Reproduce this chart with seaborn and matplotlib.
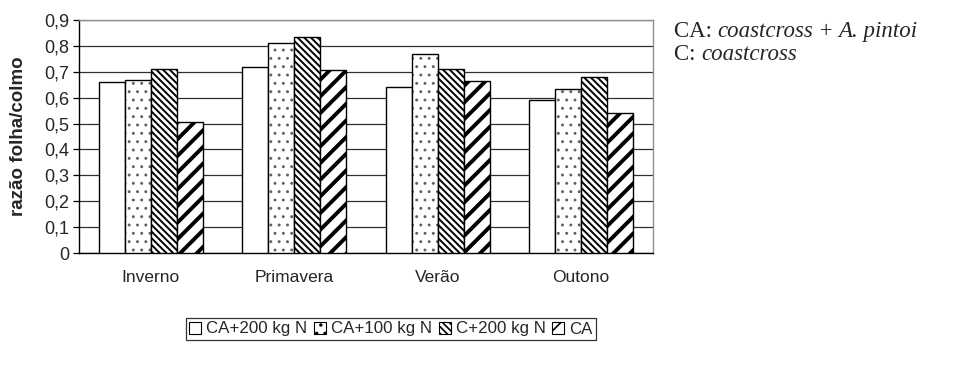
import matplotlib
matplotlib.use("Agg")
import matplotlib.pyplot as plt
import matplotlib.colors as mcolors
from matplotlib.patches import Patch
import seaborn as sns
import pandas as pd

seasons = ["Inverno", "Primavera", "Verão", "Outono"]
series = ["CA+200 kg N", "CA+100 kg N", "C+200 kg N", "CA"]
ca200 = [0.66, 0.72, 0.64, 0.59]
ca100 = [0.67, 0.81, 0.77, 0.635]
c200 = [0.71, 0.835, 0.71, 0.68]
ca = [0.505, 0.705, 0.665, 0.54]
ytick_vals = [0, 0.1, 0.2, 0.3, 0.4, 0.5, 0.6, 0.7, 0.8, 0.9]
ytick_labels = ["0", "0,1", "0,2", "0,3", "0,4", "0,5", "0,6", "0,7", "0,8", "0,9"]
ylabel = "razão folha/colmo"
note1 = ["CA: ", "coastcross", " + ", "A. pintoi"]
note2 = ["C: ", "coastcross"]

sns.set_theme(style="white")
plt.rcParams["font.family"] = ["Liberation Sans", "DejaVu Sans"]
plt.rcParams["hatch.linewidth"] = 1.2

rows = []
for s, vals in zip(series, [ca200, ca100, c200, ca]):
    for season, v in zip(seasons, vals):
        rows.append({"season": season, "series": s, "value": v})
df = pd.DataFrame(rows)

fig = plt.figure(figsize=(9.8, 3.67), dpi=100)
ax = fig.add_axes([0.0806, 0.3106, 0.666 - 0.0806, 0.9455 - 0.3106])

sns.barplot(data=df, x="season", y="value", hue="series", order=seasons,
            hue_order=series, palette=["white"] * 4, edgecolor="black",
            linewidth=1.0, width=0.725, gap=0, saturation=1, ax=ax,
            legend=False, zorder=3)

hatches = [None, "..", "\\\\\\\\\\", "//"]
hatch_lw = [1.0, 0.9, 1.4, 2.8]
hatch_col = ["black", "#606060", "black", "black"]
for cont, h, hl, hc in zip(ax.containers, hatches, hatch_lw, hatch_col):
    for p in cont.patches:
        if h:
            p.set_hatch(h)
            try:
                p.set_hatch_linewidth(hl)
            except Exception:
                pass
            try:
                p._hatch_color = mcolors.to_rgba(hc)
            except Exception:
                pass

ax.set_ylim(0, 0.9)
ax.set_xlim(-0.5, 3.5)
ax.set_yticks(ytick_vals)
ax.set_yticklabels(ytick_labels, fontsize=13)
ax.set_xticks(range(len(seasons)))
ax.set_xticklabels(seasons, fontsize=12.5)
ax.set_xticks([-0.5, 0.5, 1.5, 2.5, 3.5], minor=True)
ax.tick_params(axis="x", which="major", length=0, pad=12)
ax.tick_params(axis="x", which="minor", length=4, width=0.9, color="black", direction="out")
ax.tick_params(axis="y", which="major", length=4, width=0.9, color="black", direction="out", left=True, pad=3)
ax.set_xlabel("")
ax.set_ylabel(ylabel, fontsize=13.5, fontweight="bold", labelpad=12)

ax.yaxis.grid(True, color="#303030", linewidth=0.9, zorder=0)
ax.set_axisbelow(True)
for side in ["left", "bottom"]:
    ax.spines[side].set_color("black")
    ax.spines[side].set_linewidth(1.0)
for side in ["top", "right"]:
    ax.spines[side].set_visible(True)
    ax.spines[side].set_color("#909090")
    ax.spines[side].set_linewidth(1.0)

handles = [Patch(facecolor="white", edgecolor="black", hatch=h, linewidth=0.8) for h in hatches]
leg = fig.legend(handles, series, loc="center", bbox_to_anchor=(391 / 980, 1 - 329 / 367),
                 ncol=4, frameon=True, fancybox=False, edgecolor="black", fontsize=12.2,
                 handlelength=0.7, handleheight=0.7, handletextpad=0.3,
                 columnspacing=0.4, borderpad=0.2, borderaxespad=0)
leg.get_frame().set_linewidth(0.9)

def chain(parts, x, y):
    prev = None
    for i, t in enumerate(parts):
        style = "italic" if i % 2 == 1 else "normal"
        if prev is None:
            prev = fig.text(x, y, t, fontsize=16.5, family="Liberation Serif", style=style,
                            va="baseline", ha="left")
        else:
            prev = ax.annotate(t, xy=(1, 0), xycoords=prev, xytext=(0, 0), textcoords="offset points",
                               fontsize=16.5, family="Liberation Serif", style=style,
                               va="bottom", ha="left", annotation_clip=False)

chain(note1, 674 / 980, 1 - 37 / 367)
chain(note2, 674 / 980, 1 - 60 / 367)

fig.savefig("out.png", dpi=100, facecolor="white")
